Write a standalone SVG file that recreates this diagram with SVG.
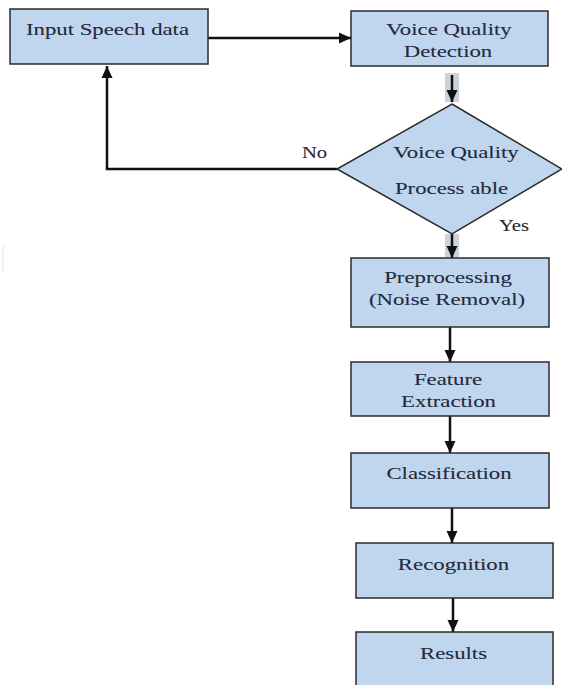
<svg xmlns="http://www.w3.org/2000/svg" width="562" height="685" viewBox="0 0 562 685">
<defs>
<style>
.box{fill:#bfd6ee;stroke:#2b2b2b;stroke-width:1.5}
.lbl{font-family:"Liberation Serif","Times New Roman",serif;font-size:16.5px;fill:#1f2a3a;text-anchor:middle;stroke:#1f2a3a;stroke-width:0.1}
.con{fill:none;stroke:#111;stroke-width:2.5}
.hl{fill:#ccd1da}
</style>
<marker id="ah" markerUnits="userSpaceOnUse" markerWidth="13" markerHeight="13" viewBox="0 0 13 13" refX="12" refY="6.5" orient="auto">
<path d="M0,1 L12,6.5 L0,12 Z" fill="#111"/>
</marker>
</defs>
<rect width="562" height="685" fill="#ffffff"/>
<line x1="3" y1="246" x2="3" y2="272" stroke="#e2e2e2" stroke-width="1"/>
<g id="connectors">
<rect class="hl" x="445" y="73" width="14" height="29"/>
<rect class="hl" x="445" y="234" width="14" height="23"/>
<line class="con" x1="208" y1="38" x2="351" y2="38" marker-end="url(#ah)"/>
<line class="con" x1="452" y1="75" x2="452" y2="102" marker-end="url(#ah)"/>
<polyline class="con" points="337,169 107,169 107,66" marker-end="url(#ah)"/>
<line class="con" x1="452" y1="234" x2="452" y2="258" marker-end="url(#ah)"/>
<line class="con" x1="450" y1="327" x2="450" y2="362" marker-end="url(#ah)"/>
<line class="con" x1="450" y1="416" x2="450" y2="453" marker-end="url(#ah)"/>
<line class="con" x1="452" y1="508" x2="452" y2="543" marker-end="url(#ah)"/>
<line class="con" x1="453" y1="598" x2="453" y2="632" marker-end="url(#ah)"/>
<text class="lbl" transform="translate(314.5,158) scale(1.25,1)">No</text>
<text class="lbl" transform="translate(514,231) scale(1.25,1)">Yes</text>
</g>
<g id="input">
<rect class="box" x="10" y="9" width="198" height="55"/>
<text class="lbl" transform="translate(107.5,35) scale(1.38,1)">Input Speech data</text>
</g>
<g id="vqd">
<rect class="box" x="351" y="11" width="197" height="55"/>
<text class="lbl" transform="translate(449,35) scale(1.38,1)">Voice Quality</text>
<text class="lbl" transform="translate(448,57) scale(1.38,1)">Detection</text>
</g>
<g id="decision">
<polygon class="box" points="452,104 562,169 452,234 337,169"/>
<text class="lbl" transform="translate(456,158) scale(1.38,1)">Voice Quality</text>
<text class="lbl" transform="translate(451.5,194) scale(1.38,1)">Process able</text>
</g>
<g id="preprocessing">
<rect class="box" x="351" y="258" width="198" height="69"/>
<text class="lbl" transform="translate(448,283) scale(1.38,1)">Preprocessing</text>
<text class="lbl" transform="translate(447,305) scale(1.38,1)">(Noise Removal)</text>
</g>
<g id="feature">
<rect class="box" x="351" y="362" width="198" height="54"/>
<text class="lbl" transform="translate(448,385) scale(1.38,1)">Feature</text>
<text class="lbl" transform="translate(448.5,407) scale(1.38,1)">Extraction</text>
</g>
<g id="classification">
<rect class="box" x="351" y="453" width="198" height="55"/>
<text class="lbl" transform="translate(449,479) scale(1.38,1)">Classification</text>
</g>
<g id="recognition">
<rect class="box" x="356" y="543" width="197" height="55"/>
<text class="lbl" transform="translate(453.5,570) scale(1.38,1)">Recognition</text>
</g>
<g id="results">
<rect class="box" x="356" y="632" width="197" height="60"/>
<text class="lbl" transform="translate(453.5,659) scale(1.38,1)">Results</text>
</g>
</svg>
